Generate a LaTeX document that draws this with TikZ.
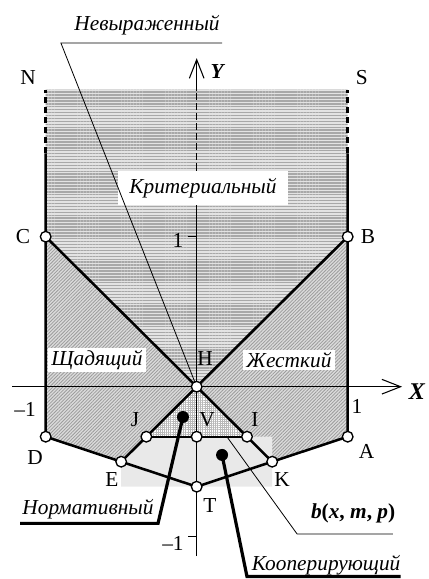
\documentclass[tikz,border=0pt]{standalone}
\usepackage{fontspec}
\setmainfont{Liberation Serif}
\usetikzlibrary{arrows.meta,patterns.meta}

\begin{document}
\begin{tikzpicture}[x=113.25pt,y=112.5pt]

\tikzset{
  every node/.style={font=\fontsize{16}{19}\selectfont},
  ptlabel/.style={inner sep=1pt},
  region/.style={font=\fontsize{16}{19}\selectfont\itshape, fill=white, inner sep=2pt},
  note/.style={font=\fontsize{16}{19}\selectfont\itshape, inner sep=1pt},
  bound/.style={black, line width=1.9pt},
  axis/.style={black, line width=0.8pt},
  axisarrow/.style={axis, -{Straight Barb[length=14pt, width=11pt]}},
  pt/.style={circle, draw=black, fill=white, line width=1pt, inner sep=0pt, minimum size=8pt},
  dot/.style={circle, fill=black, inner sep=0pt, minimum size=9pt},
  leader/.style={black, line width=0.6pt},
  heavyleader/.style={black, line width=2.4pt},
  hlines/.style={preaction={fill=gray!22}, pattern={Lines[angle=0, distance=2.2pt, line width=1.1pt]}, pattern color=gray!68},
  dlines/.style={preaction={fill=gray!28}, pattern={Lines[angle=45, distance=1.8pt, line width=0.6pt]}, pattern color=gray!78},
  fgrid/.style={preaction={fill=white}, pattern={Hatch[angle=0, distance=1.6pt, line width=0.3pt]}, pattern color=gray!55}
}

\useasboundingbox (-1.3026,-1.282) rectangle (1.532,2.578);

% Points
\coordinate (H) at (0,0);
\coordinate (C) at (-1,1);
\coordinate (B) at (1,1);
\coordinate (D) at (-1,-1/3);
\coordinate (A) at (1,-1/3);
\coordinate (E) at (-0.5,-0.5);
\coordinate (K) at (0.5,-0.5);
\coordinate (T) at (0,-2/3);
\coordinate (J) at (-1/3,-1/3);
\coordinate (V) at (0,-1/3);
\coordinate (I) at (1/3,-1/3);
\coordinate (Nt) at (-1,1.98);
\coordinate (Nb) at (-1,1.556);
\coordinate (St) at (1,1.98);
\coordinate (Sb) at (1,1.556);

% Regions
\path[hlines] (Nt) -- (St) -- (B) -- (H) -- (C) -- cycle;
\path[dlines] (C) -- (H) -- (E) -- (D) -- cycle;
\path[dlines] (B) -- (H) -- (K) -- (A) -- cycle;
\path[fgrid] (H) -- (J) -- (I) -- cycle;
\fill[gray!17] (-0.5,-2/3) -- (E) -- (J) -- (0.5,-1/3) -- (0.5,-2/3) -- cycle;

% Axes
\coordinate (yb) at (0,-1.13);
\coordinate (ym1) at (0,1.445);
\coordinate (ym2) at (0,1.98);
\coordinate (yt) at (0,2.19);
\coordinate (xl) at (-1.22,0);
\coordinate (xr) at (1.36,0);
\draw[axis] (yb) -- (ym1);
\draw[axis, dash pattern=on 5pt off 2.5pt] (ym1) -- (ym2);
\draw[axisarrow] (ym2) -- (yt);
\draw[axisarrow] (xl) -- (xr);
\draw[axis] (0,1) -- (-0.06,1);
\draw[axis] (0,-1) -- (-0.06,-1);

% Boundary
\draw[bound] (Nb) -- (D) -- (E) -- (T) -- (K) -- (A) -- (Sb);
\draw[bound, dash pattern=on 5pt off 2.5pt] (Nb) -- (Nt);
\draw[bound, dash pattern=on 5pt off 2.5pt] (Sb) -- (St);
\draw[bound] (C) -- (K);
\draw[bound] (B) -- (E);
\draw[black, line width=1.2pt] (J) -- (I);

% Region names
\node[region, minimum width=127pt, minimum height=25pt] (krit) at (0.042,1.325) {Критериальный};
\node[region, minimum width=73pt] (shch) at (-0.66,0.178) {Щадящий};
\node[region, minimum width=69pt] (zhest) at (0.611,0.178) {Жесткий};

% Leaders
\coordinate (nv1) at (-0.899,2.291);
\coordinate (nv2) at (0.168,2.291);
\draw[leader] (H) -- (nv1) -- (nv2);
\node[note] (nev) at (-0.329,2.411) {Невыраженный};

\coordinate (bp) at (0.2,-1/3);
\coordinate (bu1) at (0.665,-0.982);
\coordinate (bu2) at (1.3,-0.982);
\draw[leader] (bp) -- (bu1) -- (bu2);
\node[inner sep=1pt] (bfun) at (1.036,-0.843) {\textbf{\textit{b}(\textit{x}, \textit{m}, \textit{p})}};

\node[dot] (dnorm) at (-0.091,-0.202) {};
\coordinate (nu1) at (-1.17,-0.911);
\coordinate (nu2) at (-0.256,-0.911);
\draw[heavyleader] (nu1) -- (nu2) -- (dnorm.center);
\node[note] (norm) at (-0.72,-0.815) {Нормативный};

\node[dot] (dkoop) at (0.168,-0.455) {};
\coordinate (ku1) at (0.333,-1.265);
\coordinate (ku2) at (1.35,-1.265);
\draw[heavyleader] (dkoop.center) -- (ku1) -- (ku2);
\node[note] (koop) at (0.857,-1.19) {Кооперирующий};

% Point circles
\foreach \p in {C,B,H,D,A,E,K,T,J,V,I}
  \node[pt] (o\p) at (\p) {};

% Labels
\node[ptlabel] (lN) at (-1.117,2.058) {N};
\node[ptlabel] (lS) at (1.094,2.058) {S};
\node[ptlabel] (lC) at (-1.15,0.998) {C};
\node[ptlabel] (lB) at (1.134,1.0) {B};
\node[ptlabel] (lH) at (0.055,0.191) {H};
\node[ptlabel] (lJ) at (-0.409,-0.222) {J};
\node[ptlabel] (lV) at (0.068,-0.222) {V};
\node[ptlabel] (lI) at (0.386,-0.222) {I};
\node[ptlabel] (lD) at (-1.071,-0.469) {D};
\node[ptlabel] (lA) at (1.125,-0.435) {A};
\node[ptlabel] (lE) at (-0.561,-0.622) {E};
\node[ptlabel] (lK) at (0.565,-0.622) {K};
\node[ptlabel] (lT) at (0.088,-0.789) {T};
\node[ptlabel] (lY) at (0.141,2.098) {\textbf{\textit{Y}}};
\node[ptlabel] (lX) at (1.459,-0.035) {\fontsize{18}{20}\selectfont\textbf{\textit{X}}};
\node[ptlabel] (ly1) at (-0.124,0.978) {1};
\node[ptlabel] (lym1) at (-0.157,-1.042) {\textendash1};
\node[ptlabel] (lxm1) at (-1.137,-0.155) {\textendash1};
\node[ptlabel] (lx1) at (1.061,-0.135) {1};

\end{tikzpicture}
\end{document}
